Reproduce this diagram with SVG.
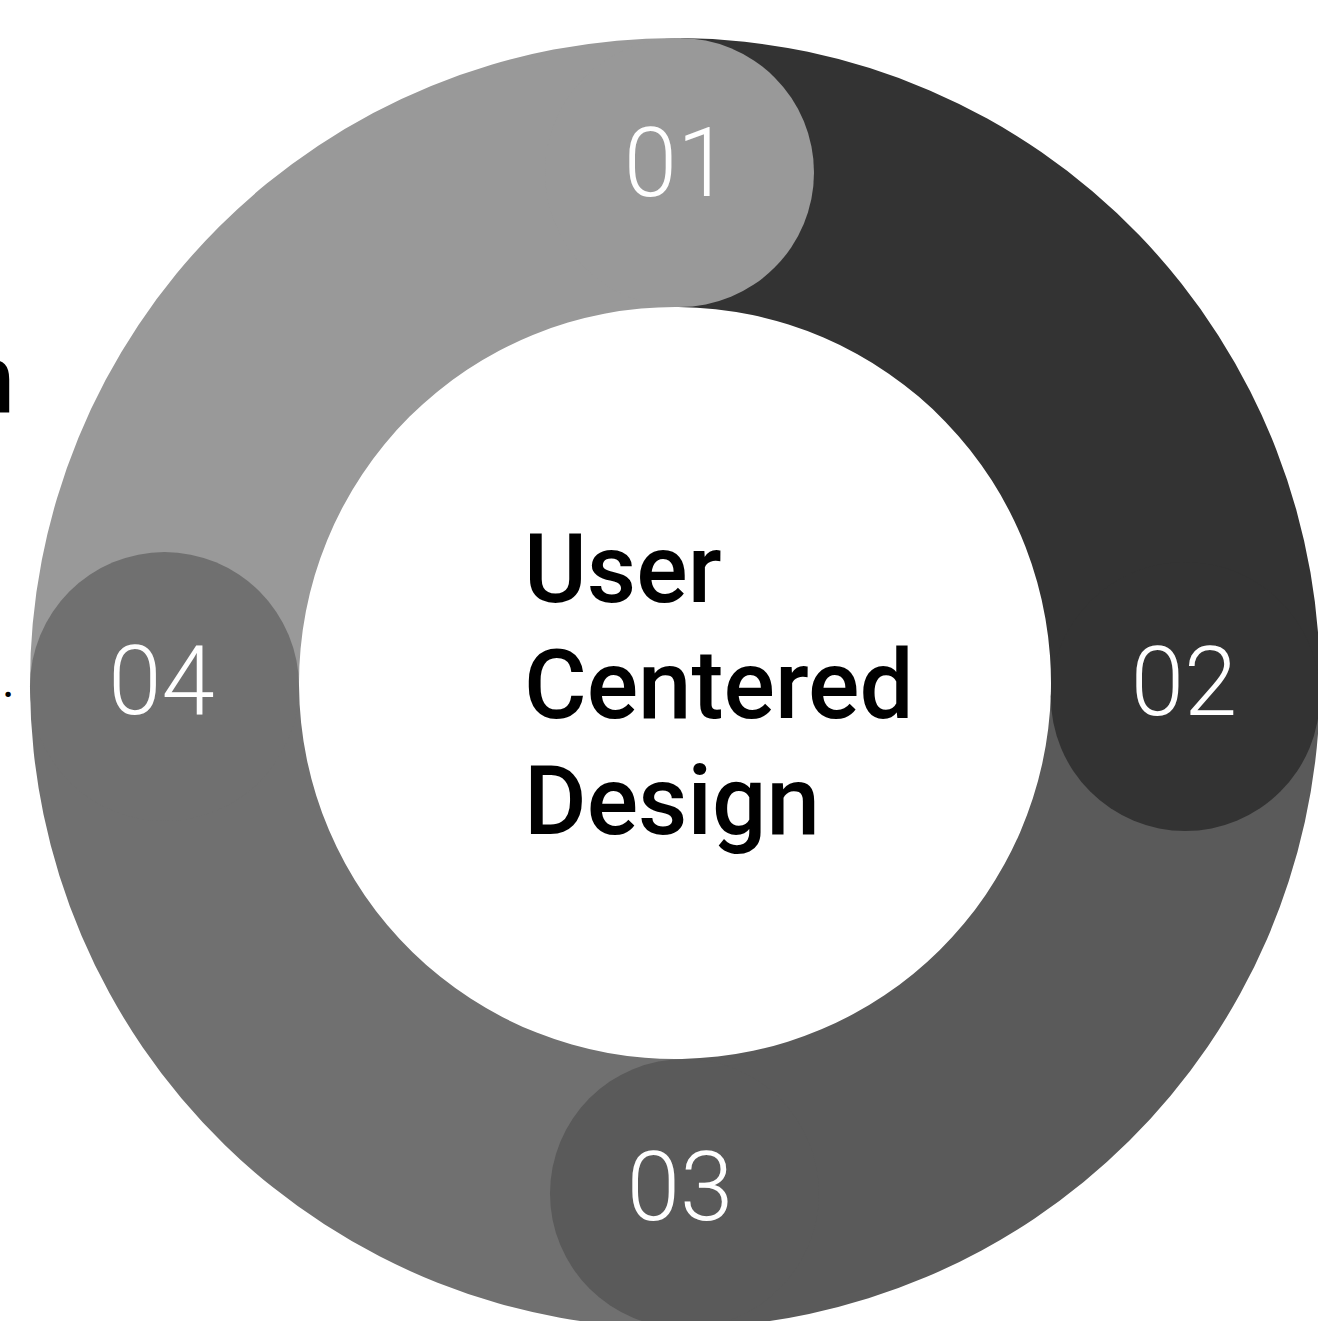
<svg xmlns="http://www.w3.org/2000/svg" width="1318" height="1321" viewBox="0 0 1318 1321">
<style>
.num{font-family:Roboto,"Liberation Sans",sans-serif;font-weight:300;font-size:96px;fill:#ffffff;text-anchor:middle}
.title{font-family:Roboto,"Liberation Sans",sans-serif;font-weight:500;font-size:96px;fill:#000000}
.c1{fill:#999999}
.c2{fill:#333333}
.c3{fill:#5a5a5a}
.c4{fill:#707070}
</style>
<rect width="1318" height="1321" fill="#ffffff"/>
<text class="title" x="15" y="412" text-anchor="end">n</text>
<text x="2" y="697" font-family="Roboto,'Liberation Sans',sans-serif" font-size="48" fill="#000000">.</text>
<g id="connectors"></g>
<g id="step01-band"><path class="c1" d="M30.01,687.5 A645,645 0 0 1 680.74,38.03 L678.35,307.02 A376,376 0 0 0 299.01,685.62 Z"/></g>
<g id="step02-band"><path class="c2" d="M680.74,38.03 A645,645 0 0 1 1319.77,700.11 L1050.87,692.97 A376,376 0 0 0 678.35,307.02 Z"/></g>
<g id="step03-band"><path class="c3" d="M1319.77,700.11 A645,645 0 0 1 687.04,1327.89 L682.02,1058.94 A376,376 0 0 0 1050.87,692.97 Z"/></g>
<g id="step04-band"><path class="c4" d="M687.04,1327.89 A645,645 0 0 1 30.01,687.5 L299.01,685.62 A376,376 0 0 0 682.02,1058.94 Z"/></g>
<g id="step01">
<circle class="c1" cx="679.5" cy="172.5" r="134.5"/>
<text class="num" x="677" y="196">01</text>
</g>
<g id="step02">
<circle class="c2" cx="1185.3" cy="696.5" r="134.5"/>
<text class="num" x="1184" y="715">02</text>
</g>
<g id="step03">
<circle class="c3" cx="684.5" cy="1193.4" r="134.5"/>
<text class="num" x="680" y="1220">03</text>
</g>
<g id="step04">
<circle class="c4" cx="164.5" cy="686.6" r="134.5"/>
<text class="num" x="161.5" y="714">04</text>
</g>
<g id="center">
<text class="title" x="524" y="602">User</text>
<text class="title" x="524" y="718">Centered</text>
<text class="title" x="524" y="834">Design</text>
</g>
</svg>
